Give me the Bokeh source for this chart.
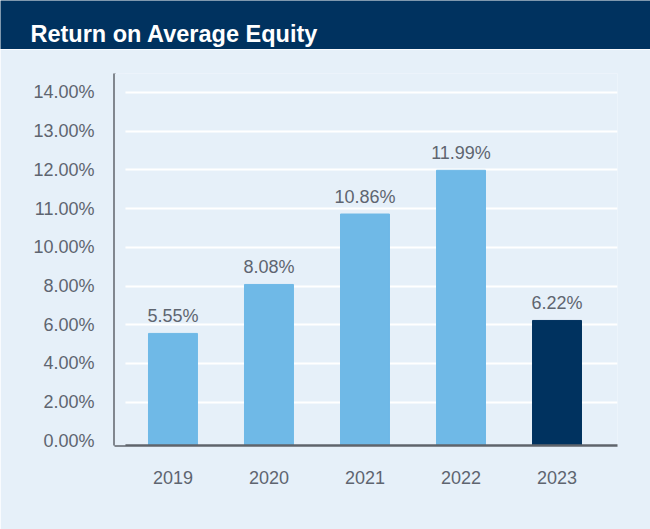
import numpy as np
from bokeh.plotting import figure
from bokeh.models import (ColumnDataSource, FixedTicker, Range1d, Label, BoxAnnotation)
from bokeh.layouts import column
from bokeh.embed import file_html
from bokeh.resources import INLINE
from bokeh.core.properties import value

# ---- data ----
title_text = "Return on Average Equity"
years = ["2019", "2020", "2021", "2022", "2023"]
roae = [5.55, 8.08, 10.86, 11.99, 6.22]
value_labels = ["5.55%", "8.08%", "10.86%", "11.99%", "6.22%"]
tick_values = [0, 2, 4, 6, 8, 10, 11, 12, 13, 14]
tick_labels = [f"{v:.2f}%" for v in tick_values]

# ---- style ----
NAVY = "#00325f"
LIGHT = "#6fb9e7"
BG = "#e6f0f9"
TXT = "#5e6570"
AXIS = "#5f646b"
FONT = "Liberation Sans"
bar_colors = [LIGHT, LIGHT, LIGHT, LIGHT, NAVY]

# the printed axis is uneven (2% steps up to 10%, then 1% steps):
# map values onto the axis' tick slots
slots = np.arange(len(tick_values))
pos = np.interp(roae, tick_values, slots)
xs = np.arange(len(years))

W = 650

# ---- header ----
head = figure(width=W, height=49, x_range=(0, 1), y_range=(0, 1),
              toolbar_location=None, output_backend="svg", min_border=0)
head.frame_align = False
head.axis.visible = False
head.grid.visible = False
head.outline_line_color = None
head.background_fill_color = NAVY
head.border_fill_color = NAVY
head.add_layout(Label(x=30, y=16, x_units="screen", y_units="screen", text=title_text,
                      text_color="white", text_font=FONT, text_font_size="23.5px",
                      text_font_style="bold", text_baseline="alphabetic"))

# ---- chart ----
y_start = -0.12
p = figure(width=W, height=480, toolbar_location=None, output_backend="svg",
           x_range=Range1d(-0.609, 4.63), y_range=Range1d(y_start, 9.49),
           min_border_left=114, min_border_right=33, min_border_top=24, min_border_bottom=84)
p.frame_align = False
p.background_fill_color = BG
p.border_fill_color = BG
p.outline_line_color = None

src = ColumnDataSource(dict(x=xs, top=pos, color=bar_colors, label=value_labels))
p.vbar(x="x", top="top", bottom=y_start, width=0.51, color="color", source=src)
p.text(x="x", y="top", text="label", source=src, text_align="center",
       text_baseline="alphabetic", y_offset=-17, text_color=TXT,
       text_font=value(FONT), text_font_size="18px")

p.yaxis.ticker = FixedTicker(ticks=list(slots))
p.yaxis.major_label_overrides = {int(i): t for i, t in zip(slots, tick_labels)}
p.xaxis.ticker = FixedTicker(ticks=list(xs))
p.xaxis.major_label_overrides = {int(i): y for i, y in zip(xs, years)}

for ax in (p.xaxis, p.yaxis):
    ax.axis_line_color = AXIS
    ax.axis_line_width = 2.5
    ax.major_tick_line_color = None
    ax.minor_tick_line_color = None
    ax.major_tick_out = 0
    ax.major_tick_in = 0
    ax.major_label_text_color = TXT
    ax.major_label_text_font = FONT
    ax.major_label_text_font_size = "18px"
p.yaxis.major_label_standoff = 20
p.xaxis.major_label_standoff = 25

p.xgrid.visible = False
p.ygrid.ticker = FixedTicker(ticks=list(slots[1:]))
p.ygrid.grid_line_color = "white"
p.ygrid.grid_line_width = 2

# gap between the y axis and the start of the grid lines
p.add_layout(BoxAnnotation(left=None, right=-0.495, fill_color=BG, fill_alpha=1,
                           line_color=None))

layout = column(head, p, spacing=0)
open("out.html", "w").write(file_html(layout, INLINE))
